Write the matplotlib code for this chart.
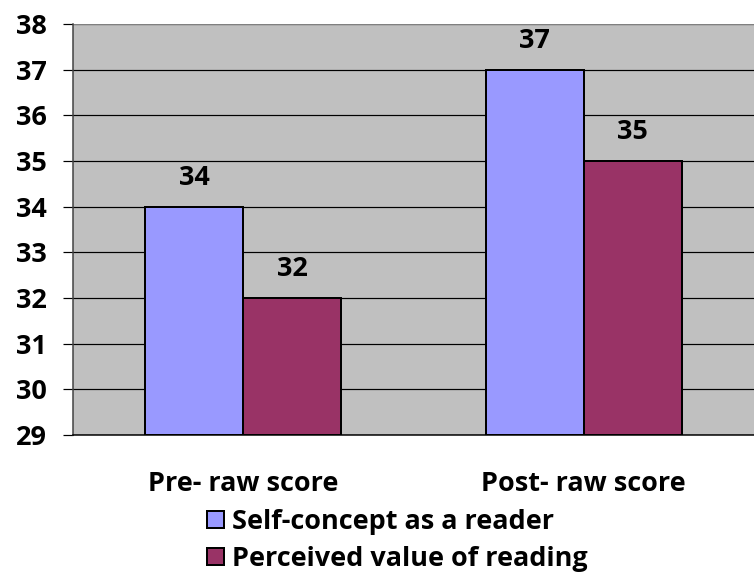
import numpy as np
import matplotlib.pyplot as plt

categories = ['Pre- raw score', 'Post- raw score']
series_names = ['Self-concept as a reader', 'Perceived value of reading']
self_concept = [34, 37]
perceived_value = [32, 35]
yticks = list(range(29, 39))

colors = ['#9999FF', '#993366']

plt.rcParams['font.family'] = ['Open Sans', 'DejaVu Sans']
plt.rcParams['font.weight'] = 'bold'

fig = plt.figure(figsize=(754 / 72, 574 / 72), dpi=72)
ax = fig.add_axes([73 / 754, 1 - 435 / 574, 681 / 754, 411 / 574])
ax.set_facecolor('#C0C0C0')

fs = 27
x = np.arange(len(categories))
w = 0.288
bars = []
for i, (vals, name) in enumerate(zip([self_concept, perceived_value], series_names)):
    b = ax.bar(x + (i - 0.5) * w, np.array(vals) - 29, width=w, bottom=29,
               color=colors[i], edgecolor='black', linewidth=2, label=name, zorder=3)
    bars.append(b)
    for xi, v in zip(x + (i - 0.5) * w, vals):
        ax.text(xi, v + 0.35, str(v), ha='center', va='bottom',
                fontsize=fs, fontweight='bold', zorder=4)

ax.set_xlim(-0.5, 1.5)
ax.set_ylim(29, 38)
ax.set_yticks(yticks)
ax.set_yticklabels([str(t) for t in yticks], fontsize=fs, fontweight='bold')
ax.yaxis.grid(True, color='black', linewidth=1.2, zorder=1)
ax.tick_params(axis='y', length=10, width=1.2, pad=16)
ax.tick_params(axis='x', length=0, pad=36)
ax.set_xticks(x)
ax.set_xticklabels(categories, fontsize=fs, fontweight='bold')

for side in ['top', 'right']:
    ax.spines[side].set_visible(False)
ax.spines['left'].set_color('#404040')
ax.spines['left'].set_linewidth(1.5)
ax.spines['bottom'].set_color('black')
ax.spines['bottom'].set_linewidth(1.5)
ax.axhline(38, color='#808080', linewidth=2, zorder=2)

fig.legend(handles=bars, labels=series_names, loc='center',
           bbox_to_anchor=(0.527, 0.058), frameon=False, ncol=1,
           fontsize=fs, handlelength=0.62, handleheight=0.62,
           handletextpad=0.3, labelspacing=0.41, borderaxespad=0.0)

fig.savefig('out.png', dpi=72)
